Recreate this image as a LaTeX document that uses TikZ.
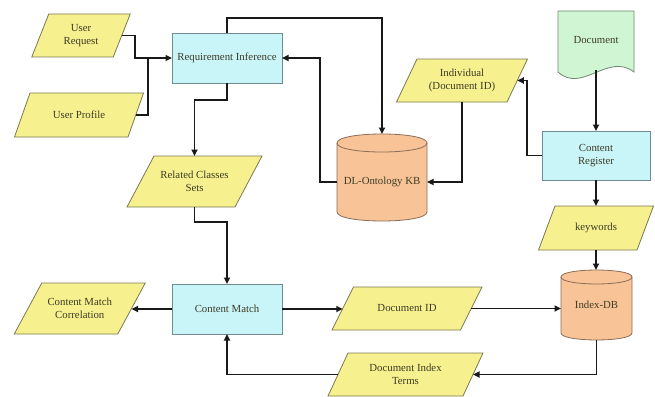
\documentclass[tikz,border=0pt]{standalone}
\usepackage{fontspec}
\setmainfont{Liberation Serif}
\usetikzlibrary{calc,arrows.meta}

\definecolor{paraFill}{HTML}{F6F08E}
\definecolor{paraLine}{HTML}{7C7A55}
\definecolor{boxFill}{HTML}{C9F4F8}
\definecolor{boxLine}{HTML}{6F8C8E}
\definecolor{docFill}{HTML}{D0F5D2}
\definecolor{docLine}{HTML}{6E8A70}
\definecolor{cylFill}{HTML}{F8C396}
\definecolor{cylLine}{HTML}{8A6E5A}
\definecolor{txtCol}{HTML}{3C3C26}

\tikzset{
  txtnode/.style={inner sep=0pt, outer sep=0pt, align=center, text=txtCol,
                  font=\fontsize{10.8}{13}\selectfont},
  paraShape/.style={fill=paraFill, draw=paraLine, line width=0.8pt},
  procbox/.style={txtnode, draw=boxLine, fill=boxFill, line width=0.8pt},
  cylShape/.style={fill=cylFill, draw=cylLine, line width=0.8pt},
  docShape/.style={fill=docFill, draw=docLine, line width=0.8pt},
  conn/.style={line width=1.8pt, draw=black!90},
  arr/.style={conn, -{Triangle[length=6.5pt,width=6pt]}},
}

% data parallelogram: name, cx, cy, mid width, height, slant, text
\newcommand{\parabox}[7]{%
  \path[paraShape] ({#2-#4/2-#6/2},{#3+#5/2}) -- ({#2-#4/2+#6/2},{#3-#5/2})
     -- ({#2+#4/2+#6/2},{#3-#5/2}) -- ({#2+#4/2-#6/2},{#3+#5/2}) -- cycle;
  \node[txtnode, minimum width=#4pt, minimum height=#5pt] (#1) at (#2,#3) {#7};%
}

\begin{document}
\begin{tikzpicture}[x=1pt, y=-1pt]
  \fill[white] (0,0) rectangle (655,396);
  \useasboundingbox (0,0) rectangle (655,396);

  % inputs and data
  \parabox{UR}{81}{35.5}{81.5}{43}{17}{User\\Request}
  \parabox{UP}{79}{115}{113.5}{44}{15.5}{User Profile}
  \parabox{RCS}{194.5}{181.5}{108}{51}{27}{Related Classes\\Sets}
  \parabox{CMC}{79.75}{308.5}{103.5}{51}{27.5}{Content Match\\Correlation}
  \parabox{DocID}{407}{308.5}{128.5}{43}{21.5}{Document ID}
  \parabox{DIT}{405.5}{374.5}{135}{43}{20}{Document Index\\Terms}
  \parabox{KW}{596}{228}{98.5}{44}{16.5}{keywords}
  \parabox{Ind}{462}{80.5}{110.5}{43}{20.5}{Individual\\(Document ID)}

  % processes
  \node[procbox, minimum width=110pt, minimum height=50pt] (RI) at (227,58) {Requirement Inference};
  \node[procbox, minimum width=108pt, minimum height=49pt] (CR) at (596,155.5) {Content\\Register};
  \node[procbox, minimum width=110pt, minimum height=50pt] (CM) at (227,309) {Content Match};

  % document
  \path[docShape] (558,11) -- (634,11) -- (634,72)
     .. controls (608,52) and (582,94) .. (558,72) -- cycle;
  \node[txtnode, minimum width=76pt, minimum height=59pt] (Doc) at (596,40.5) {Document};

  % knowledge base
  \path[cylShape] (337,143) -- (337,212) .. controls (337,224) and (427,224) .. (427,212)
     -- (427,143) .. controls (427,131) and (337,131) .. cycle;
  \draw[cylLine, line width=0.8pt] (337,143) .. controls (337,155) and (427,155) .. (427,143);
  \node[txtnode, minimum width=90pt, minimum height=96pt] (DL) at (382,182) {DL-Ontology KB};

  % index database
  \path[cylShape] (561,277) -- (561,333) .. controls (561,342.3) and (632,342.3) .. (632,333)
     -- (632,277) .. controls (632,267.7) and (561,267.7) .. cycle;
  \draw[cylLine, line width=0.8pt] (561,277) .. controls (561,286.3) and (632,286.3) .. (632,277);
  \node[txtnode, minimum width=71pt, minimum height=70pt] (IDB) at (596.5,305) {Index-DB};

  % connectors
  \draw[arr] (UR.east) -| ($(RI.west)+(-37,0)$) -- (RI.west);
  \draw[conn] (UP.east) -| ($(RI.west)+(-24,0)$);
  \draw[arr] (RI.north) -- ++(0,-15) -| (DL.north);
  \draw[arr] (DL.west) -- ++(-17,0) |- (RI.east);
  \draw[arr] (RI.south) -- ++(0,17) -| (RCS.north);
  \draw[arr] (RCS.south) -- ++(0,15) -| (CM.north);
  \draw[arr] (CM.west) -- (CM.west -| CMC.east);
  \draw[arr] (CM.east) -- (CM.east -| DocID.west);
  \draw[arr] (DocID.east) -- (DocID.east -| IDB.west);
  \draw[arr] (IDB.south) |- (DIT.east);
  \draw[arr] (DIT.west) -| (CM.south);
  \draw[arr] (Doc.south) -- (CR.north);
  \draw[arr] (CR.south) -- (KW.north);
  \draw[arr] (KW.south) -- (KW.south |- IDB.north);
  \draw[arr] (CR.west) -- ++(-15,0) |- (Ind.east);
  \draw[arr] (Ind.south) |- (DL.east);
\end{tikzpicture}
\end{document}
